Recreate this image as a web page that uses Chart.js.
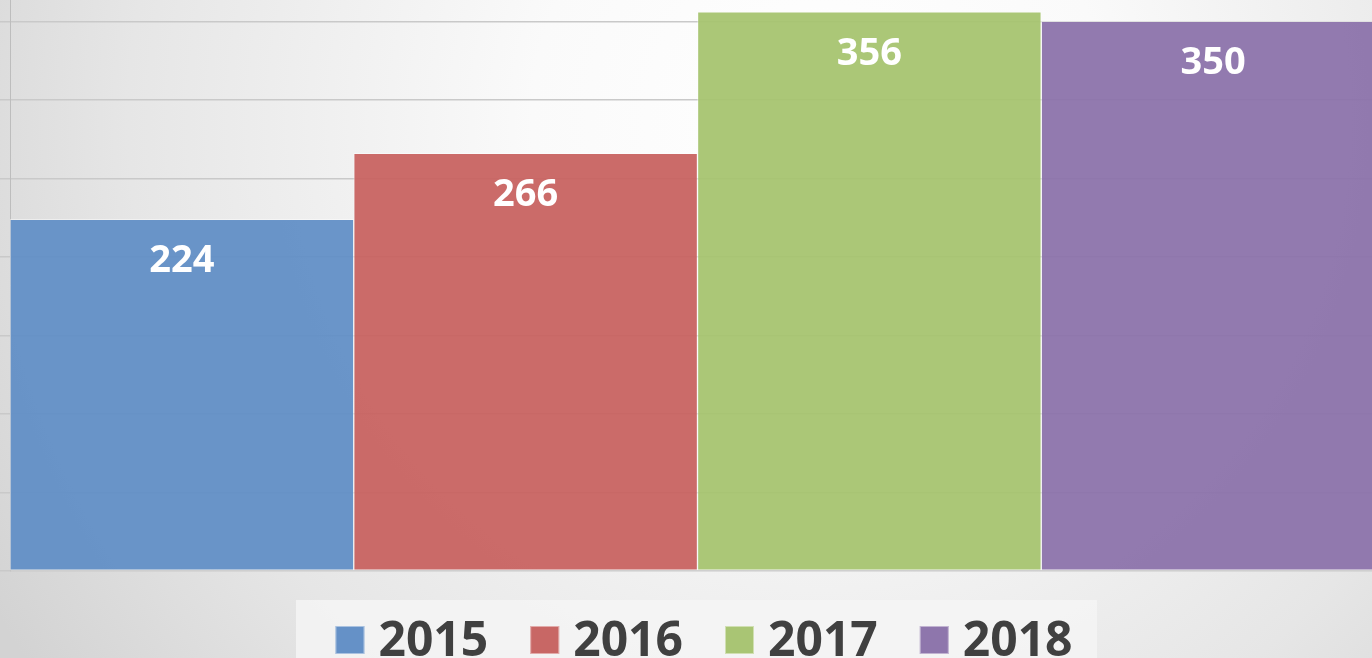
<!DOCTYPE html>
<html>
<head>
<meta charset="utf-8">
<script src="https://cdn.jsdelivr.net/npm/chart.js@4/dist/chart.umd.min.js"></script>
<style>
  html, body { margin: 0; padding: 0; background: #e0e0e0; }
  #wrap { width: 1372px; height: 658px; overflow: hidden; position: relative; }
  canvas { display: block; }
</style>
</head>
<body>
<div id="wrap"><canvas id="c" width="1385" height="658"></canvas></div>
<script>
const categories = [''];
const seriesNames = ['2015', '2016', '2017', '2018'];
const seriesValues = [224, 266, 356, 350];
const seriesColors = ['rgba(98,143,198,0.95)', 'rgba(200,99,97,0.95)', 'rgba(167,196,112,0.95)', 'rgba(140,115,171,0.95)'];
const legendColors = ['#6591C7', '#C86765', '#A9C574', '#8E76AC'];
const yTicks = [0, 50, 100, 150, 200, 250, 300, 350];

const bgPlugin = {
  id: 'bg',
  beforeDraw(chart) {
    const ctx = chart.ctx;
    const w = chart.width, h = chart.height;
    ctx.save();
    const g = ctx.createRadialGradient(820, 120, 0, 820, 120, 960);
    g.addColorStop(0, '#ffffff');
    g.addColorStop(0.3, '#fafafa');
    g.addColorStop(0.72, '#e6e6e6');
    g.addColorStop(1, '#d3d3d3');
    ctx.fillStyle = g;
    ctx.fillRect(0, 0, w, h);
    ctx.fillStyle = 'rgba(244,244,244,0.85)';
    ctx.fillRect(296, 600, 801, 58);
    ctx.restore();
  }
};

const labelPlugin = {
  id: 'vals',
  afterDatasetsDraw(chart) {
    const ctx = chart.ctx;
    ctx.save();
    ctx.font = 'bold 38px "Open Sans"';
    ctx.fillStyle = '#ffffff';
    ctx.textAlign = 'center';
    ctx.textBaseline = 'middle';
    chart.data.datasets.forEach((ds, i) => {
      const meta = chart.getDatasetMeta(i);
      meta.data.forEach((bar, j) => {
        ctx.fillText(String(ds.data[j]), bar.x, bar.y + 42);
      });
    });
    ctx.restore();
  }
};

const legendPlugin = {
  id: 'customLegend',
  afterDraw(chart) {
    const ctx = chart.ctx;
    ctx.save();
    ctx.font = 'bold 48px "Open Sans"';
    const box = 29, gap = 14, itemGap = 42;
    const widths = chart.data.datasets.map(ds => box + gap + ctx.measureText(ds.label).width);
    const total = widths.reduce((a, b) => a + b, 0) + itemGap * (widths.length - 1);
    let x = 704 - total / 2;
    chart.data.datasets.forEach((ds, i) => {
      ctx.fillStyle = legendColors[i];
      ctx.fillRect(x, 626, box, 28);
      ctx.strokeStyle = 'rgba(255,255,255,0.45)';
      ctx.lineWidth = 1;
      ctx.strokeRect(x + 0.5, 626.5, box - 1, 27);
      ctx.fillStyle = '#404040';
      ctx.textBaseline = 'alphabetic';
      ctx.textAlign = 'left';
      ctx.fillText(ds.label, x + box + gap, 656);
      x += widths[i] + itemGap;
    });
    ctx.restore();
  }
};

new Chart(document.getElementById('c'), {
  type: 'bar',
  data: {
    labels: categories,
    datasets: seriesNames.map((name, i) => ({
      label: name,
      data: [seriesValues[i]],
      backgroundColor: seriesColors[i],
      borderColor: 'rgba(255,255,255,0.45)',
      borderWidth: 1,
      borderSkipped: false,
      categoryPercentage: 1,
      barPercentage: 1
    }))
  },
  options: {
    responsive: false,
    animation: false,
    layout: { padding: { left: 0, right: 0, top: 0, bottom: 87 } },
    plugins: { legend: { display: false }, tooltip: { enabled: false } },
    scales: {
      x: { display: false },
      y: {
        min: 0,
        max: 363.6,
        afterBuildTicks(scale) { scale.ticks = yTicks.map(v => ({ value: v })); },
        ticks: { display: false },
        grid: { color: '#c9c9c9', lineWidth: 1.5, tickLength: 10, drawTicks: true },
        border: { display: true, color: '#bdbdbd', width: 1 }
      }
    }
  },
  plugins: [bgPlugin, labelPlugin, legendPlugin]
});
</script>
</body>
</html>
